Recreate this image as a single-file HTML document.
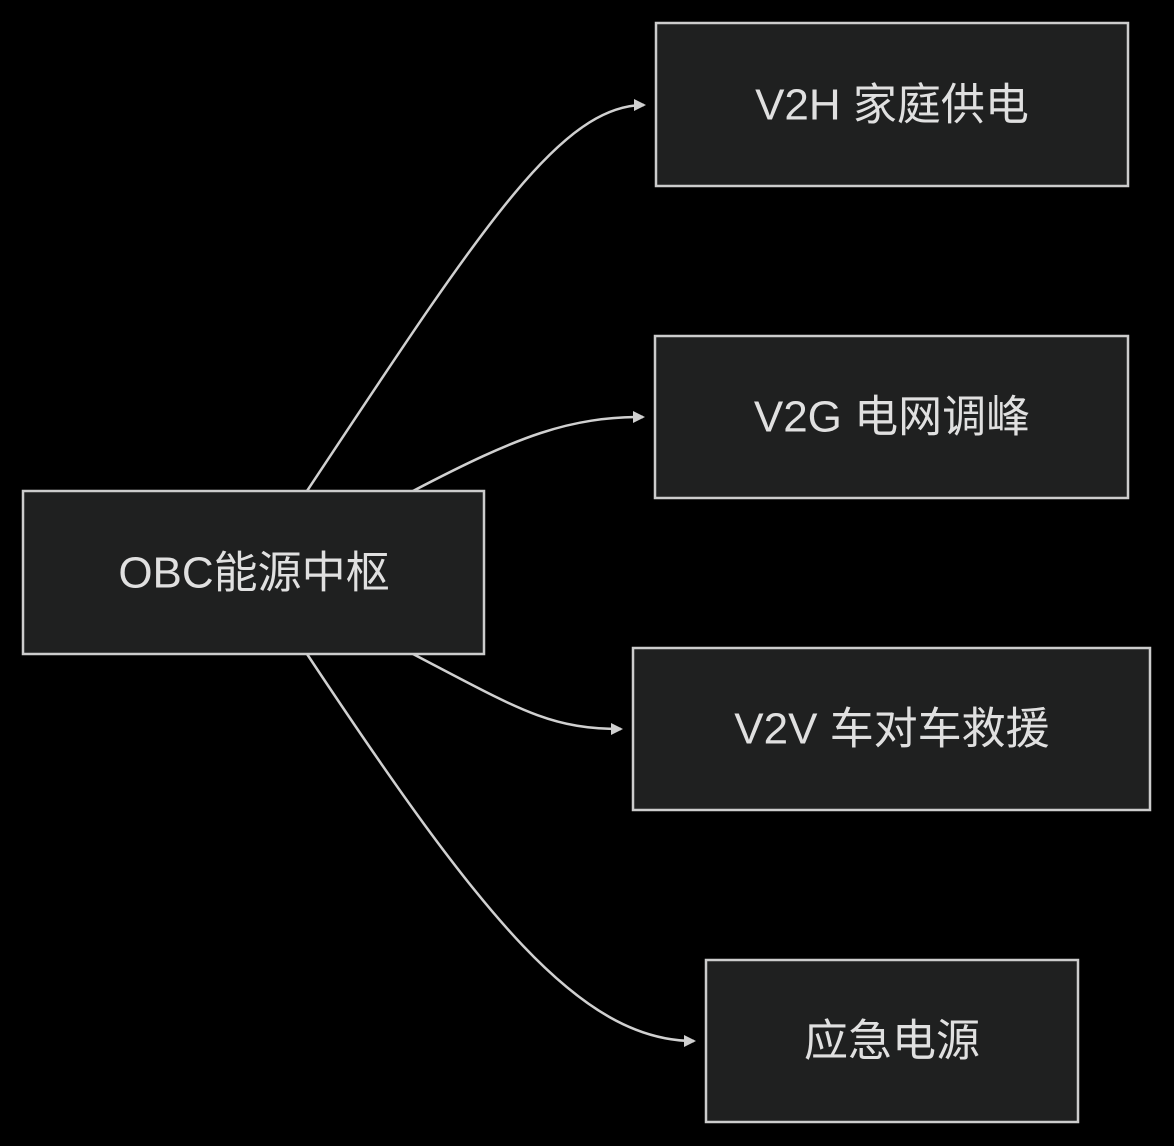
<!DOCTYPE html>
<html><head><meta charset="utf-8"><style>
html,body{margin:0;padding:0;background:#000;}
svg{display:block}
text{font-family:"Liberation Sans","Noto Sans CJK SC",sans-serif;font-size:44px;fill:#e0e0e0;text-anchor:middle;dominant-baseline:central}
rect{fill:#1f2020;stroke:#cccccc;stroke-width:2.5}
path.e{fill:none;stroke:#d0d0d0;stroke-width:2.5}
</style></head><body>
<svg width="1174" height="1146" viewBox="0 0 1174 1146">
<defs><marker id="a" markerWidth="12" markerHeight="12" refX="10" refY="6" orient="auto" markerUnits="userSpaceOnUse" viewBox="0 0 12 12"><path d="M0,0 L12,6 L0,12 z" fill="#d0d0d0"/></marker></defs>
<path class="e" d="M307,491 C480,230 560,105 644,105" marker-end="url(#a)"/>
<path class="e" d="M413,491 C520,435 570,417 643,417" marker-end="url(#a)"/>
<path class="e" d="M413,654 C520,710 550,729 621,729" marker-end="url(#a)"/>
<path class="e" d="M307,654 C480,915 580,1041 694,1041" marker-end="url(#a)"/>
<rect x="23" y="491" width="461" height="163"/>
<text x="254" y="573">OBC能源中枢</text>
<rect x="656" y="23" width="472" height="163"/>
<text x="892" y="105">V2H 家庭供电</text>
<rect x="655" y="336" width="473" height="162"/>
<text x="892" y="417">V2G 电网调峰</text>
<rect x="633" y="648" width="517" height="162"/>
<text x="892" y="729">V2V 车对车救援</text>
<rect x="706" y="960" width="372" height="162"/>
<text x="892" y="1041">应急电源</text>
</svg>
</body></html>
